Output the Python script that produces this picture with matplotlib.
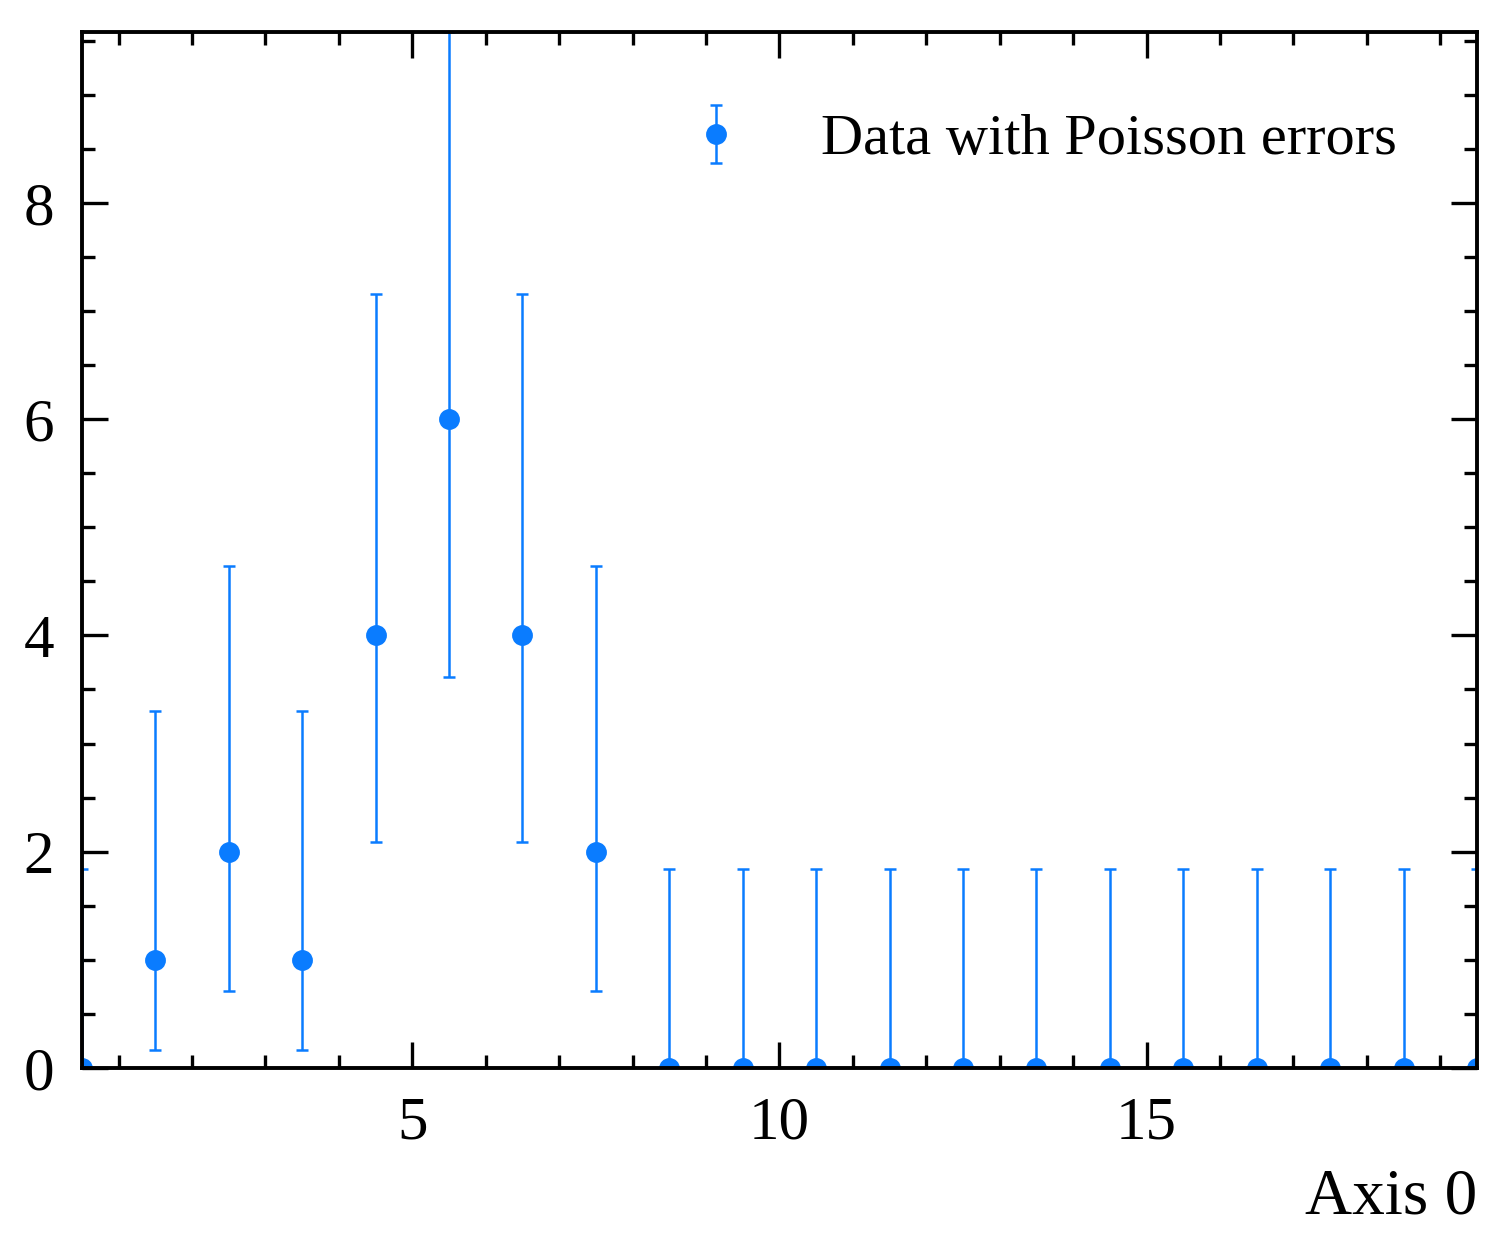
import numpy as np
import matplotlib
matplotlib.use("Agg")
import matplotlib.pyplot as plt
from matplotlib.ticker import MultipleLocator

# histogram data (unit bins from 0 to 20)
bin_edges = list(range(21))
counts = [0, 1, 2, 1, 4, 6, 4, 2, 0, 0, 0, 0, 0, 0, 0, 0, 0, 0, 0, 0]
# asymmetric Poisson (Garwood 68%) errors
err_low = [0.0, 0.83, 1.29, 0.83, 1.91, 2.38, 1.91, 1.29, 0, 0, 0, 0, 0, 0, 0, 0, 0, 0, 0, 0]
err_high = [1.84, 2.30, 2.64, 2.30, 3.16, 3.58, 3.16, 2.64, 1.84, 1.84, 1.84, 1.84,
            1.84, 1.84, 1.84, 1.84, 1.84, 1.84, 1.84, 1.84]
label = "Data with Poisson errors"
xlabel = "Axis 0"

plt.rcParams["font.family"] = ["Liberation Serif", "DejaVu Serif"]
plt.rcParams["font.size"] = 22

edges = np.array(bin_edges, dtype=float)
centers = 0.5 * (edges[1:] + edges[:-1])
c = np.array(counts, dtype=float)
lo = np.array(err_low)
hi = np.array(err_high)

fig = plt.figure(figsize=(7.53, 6.285), dpi=200)
ax = fig.add_axes([0.0544, 0.1504, 0.9263, 0.8241])

blue = "#0a7cff"
ax.errorbar(centers, c, yerr=[lo, hi], fmt="o", color=blue, markersize=6.5,
            elinewidth=0.9, capsize=2.0, capthick=0.9, label=label)

ax.set_xlim(centers.min(), centers.max())
ax.set_ylim(0, (c + hi).max())

ax.xaxis.set_major_locator(MultipleLocator(5))
ax.xaxis.set_minor_locator(MultipleLocator(1))
ax.yaxis.set_major_locator(MultipleLocator(2))
ax.yaxis.set_minor_locator(MultipleLocator(0.5))
ax.tick_params(which="both", direction="in", top=True, right=True, width=1.2,
               labelsize=22)
ax.tick_params(which="major", length=9.5, pad=10)
ax.tick_params(which="minor", length=4.8)
for s in ax.spines.values():
    s.set_linewidth(1.4)

ax.set_xlabel(xlabel, loc="right", fontsize=23.5, labelpad=6)

ax.legend(loc="upper right", frameon=False, fontsize=21,
          bbox_to_anchor=(0.98, 0.972))

fig.savefig("out.png", dpi=200)
